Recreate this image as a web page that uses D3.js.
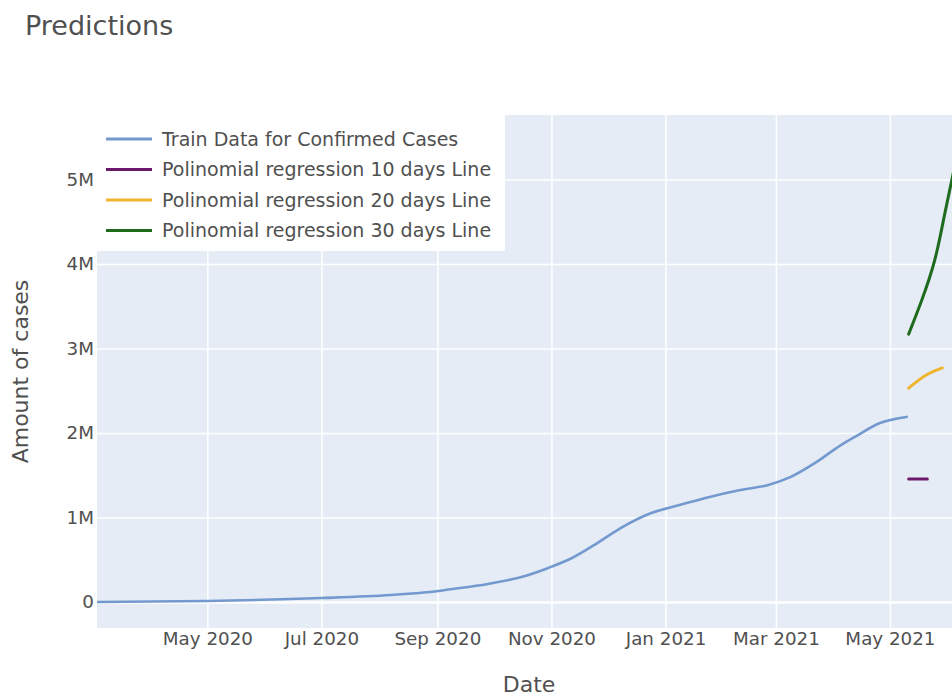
<!DOCTYPE html>
<html>
<head>
<meta charset="utf-8">
<script src="https://cdn.jsdelivr.net/npm/d3@7"></script>
<style>
  body { margin: 0; background: #fff; }
  svg { font-family: "DejaVu Sans", sans-serif; }
</style>
</head>
<body>
<svg id="chart"></svg>
<script>
// train data
var trainDates = ['2020-03-03', '2020-05-01', '2020-07-01', '2020-08-07', '2020-08-28', '2020-09-08',
  '2020-09-28', '2020-10-16', '2020-10-30', '2020-11-12', '2020-11-24', '2020-12-08', '2020-12-24',
  '2021-01-09', '2021-01-24', '2021-02-10', '2021-02-25', '2021-03-09', '2021-03-22', '2021-04-05',
  '2021-04-12', '2021-04-26', '2021-05-10'];
var trainCases = [0, 12000, 47000, 83000, 118000, 150000,
  213000, 296000, 400000, 520000, 675000, 875000, 1050000,
  1150000, 1240000, 1325000, 1385000, 1480000, 1645000, 1860000,
  1950000, 2120000, 2190000];

var pred10Dates = ['2021-05-11', '2021-05-21'];
var pred10Cases = [1456000, 1456000];

var pred20Dates = ['2021-05-11', '2021-05-20', '2021-05-29'];
var pred20Cases = [2530000, 2680000, 2770000];

var pred30Dates = ['2021-05-11', '2021-05-18', '2021-05-25', '2021-05-30', '2021-06-04'];
var pred30Cases = [3170000, 3570000, 4050000, 4560000, 5090000];

var xTickDates = ['2020-05-01', '2020-07-01', '2020-09-01', '2020-11-01', '2021-01-01', '2021-03-01', '2021-05-01'];
var yTicks = [0, 1000000, 2000000, 3000000, 4000000, 5000000];
var yTickLabels = ['0', '1M', '2M', '3M', '4M', '5M'];

var seriesNames = ['Train Data for Confirmed Cases', 'Polinomial regression 10 days Line',
  'Polinomial regression 20 days Line', 'Polinomial regression 30 days Line'];
var seriesColors = ['#7399cf', '#6b1a6b', '#f0b52e', '#1e6b1e'];

var parse = d3.timeParse('%Y-%m-%d');

var render = (selector, size) => {
  var margin = size.margin;
  var width = size.plotWidth;
  var height = size.plotHeight;

  var x = d3.scaleTime()
    .domain([parse('2020-03-03'), parse('2021-06-08')])
    .range([0, width]);

  var y = d3.scaleLinear()
    .domain([-308000, 5763000])
    .range([height, 0]);

  var svg = d3.select(selector)
    .attr('width', size.width)
    .attr('height', size.height);

  svg.append('text')
    .attr('x', 25)
    .attr('y', 35)
    .attr('font-size', '27px')
    .attr('fill', '#505050')
    .text('Predictions');

  var chart = svg.append('g')
    .attr('transform', `translate(${ margin.left }, ${ margin.top })`);

  chart.append('rect')
    .attr('width', width)
    .attr('height', height)
    .attr('fill', '#e5ecf6');

  var xAxis = d3.axisBottom(x)
    .tickValues(xTickDates.map(parse))
    .tickFormat(d3.timeFormat('%b %Y'))
    .tickSize(-height)
    .tickPadding(4);

  var yAxis = d3.axisLeft(y)
    .tickValues(yTicks)
    .tickFormat((d, i) => yTickLabels[i])
    .tickSize(-width)
    .tickPadding(3);

  var gx = chart.append('g')
    .attr('transform', `translate(0, ${ height })`)
    .attr('class', 'axis x')
    .call(xAxis);

  var gy = chart.append('g')
    .attr('class', 'axis y')
    .call(yAxis);

  [gx, gy].forEach(g => {
    g.select('.domain').remove();
    g.selectAll('.tick line').attr('stroke', '#fff').attr('stroke-width', 1.5);
    g.selectAll('.tick text').attr('fill', '#505050').attr('font-size', '18.3px')
      .attr('font-family', '"DejaVu Sans", sans-serif');
  });
  gy.select('.tick line').attr('stroke-width', 2.5);

  svg.append('clipPath').attr('id', 'plotclip')
    .append('rect').attr('width', width).attr('height', height);

  var lines = chart.append('g').attr('clip-path', 'url(#plotclip)');

  var series = [
    [trainDates, trainCases],
    [pred10Dates, pred10Cases],
    [pred20Dates, pred20Cases],
    [pred30Dates, pred30Cases]
  ];

  series.forEach((s, i) => {
    var pts = s[0].map((d, j) => [parse(d), s[1][j]]);
    var line = d3.line()
      .x(d => x(d[0]))
      .y(d => y(d[1]))
      .curve(i == 0 ? d3.curveMonotoneX : d3.curveNatural);
    lines.append('path')
      .datum(pts)
      .attr('fill', 'none')
      .attr('stroke', seriesColors[i])
      .attr('stroke-width', i == 0 ? 2.6 : 3)
      .attr('stroke-linecap', 'round')
      .attr('d', line);
  });

  // legend
  var legend = chart.append('g');
  legend.append('rect')
    .attr('x', 0)
    .attr('y', 0)
    .attr('width', 408)
    .attr('height', 136)
    .attr('fill', '#fff');

  var items = legend.selectAll('.item')
    .data(seriesNames)
    .enter().append('g')
    .attr('transform', (d, i) => `translate(0, ${ 24 + i * 30.5 })`);

  items.append('line')
    .attr('x1', 9)
    .attr('x2', 55)
    .attr('stroke', (d, i) => seriesColors[i])
    .attr('stroke-width', 3);

  items.append('text')
    .attr('x', 65)
    .attr('dy', '0.35em')
    .attr('font-size', '19px')
    .attr('fill', '#505050')
    .text(d => d);

  svg.append('text')
    .attr('transform', `translate(28, ${ margin.top + height / 2 }) rotate(-90)`)
    .attr('text-anchor', 'middle')
    .attr('font-size', '22px')
    .attr('fill', '#505050')
    .text('Amount of cases');

  svg.append('text')
    .attr('x', margin.left + width / 2)
    .attr('y', 692)
    .attr('text-anchor', 'middle')
    .attr('font-size', '22px')
    .attr('fill', '#505050')
    .text('Date');
};

render('#chart', {
  width: 952,
  height: 696,
  plotWidth: 864,
  plotHeight: 513,
  margin: { top: 115, left: 97 }
});
</script>
</body>
</html>
